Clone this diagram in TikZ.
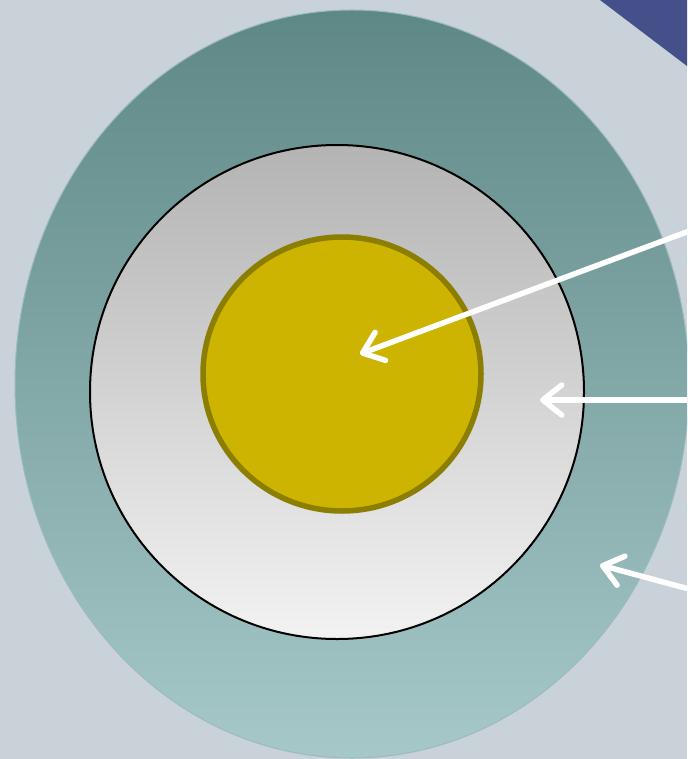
\documentclass[tikz,border=0pt]{standalone}
\usetikzlibrary{arrows.meta}
\definecolor{bgc}{HTML}{C8D2D8}
\definecolor{tri}{HTML}{45508A}
\definecolor{tealtop}{HTML}{5E8886}
\definecolor{tealbot}{HTML}{A6C8C8}
\definecolor{graytop}{HTML}{B4B4B4}
\definecolor{graybot}{HTML}{F2F2F2}
\definecolor{gold}{HTML}{CDB400}
\definecolor{golddark}{HTML}{8C7E00}
\tikzset{
  pointer/.style={draw=white, line width=5.5pt, line cap=round,
    -{Straight Barb[length=19pt,width=30pt,line cap=round,line join=round]}}
}
\begin{document}
\begin{tikzpicture}[x=1pt,y=-1pt]
\useasboundingbox (0,0) rectangle (687,759);
\clip (0,0) rectangle (687,759);
\fill[bgc] (0,0) rectangle (687,759);
\fill[tri] (600,0) -- (687,0) -- (687,66) -- cycle;
\draw[draw=tealbot!80!tealtop, line width=1pt, top color=tealtop, bottom color=tealbot]
  (352,384) ellipse [x radius=337, y radius=374];
\draw[black, line width=2pt, top color=graytop, bottom color=graybot]
  (337,392) circle [radius=247];
\draw[golddark, line width=5.5pt, fill=gold]
  (342,374) ellipse [x radius=139, y radius=137];
\coordinate (s1) at (700,227);
\coordinate (t1) at (360,354);
\coordinate (s2) at (700,400);
\coordinate (t2) at (540,400);
\coordinate (s3) at (700,592);
\coordinate (t3) at (600,565);
\draw[pointer] (s1) -- (t1);
\draw[pointer] (s2) -- (t2);
\draw[pointer] (s3) -- (t3);
\end{tikzpicture}
\end{document}
